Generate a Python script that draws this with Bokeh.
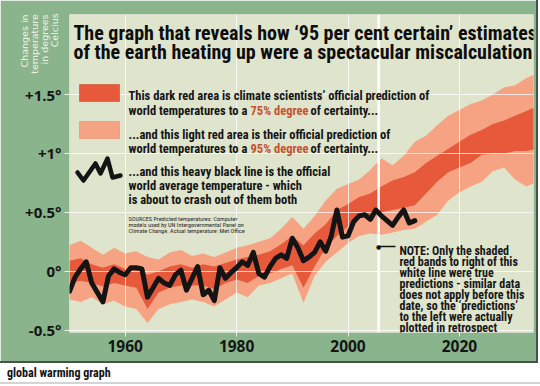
import math
from bokeh.plotting import figure
from bokeh.models import (Range1d, FixedTicker, Label, BoxAnnotation, Span, Div, Arrow,
                          LinearAxis)
from bokeh.layouts import column
from bokeh.embed import file_html
from bokeh.resources import INLINE

# ---------------- data ----------------
temp_years = list(range(1950, 2013))
temp_anomaly = [-0.17, -0.05, 0.02, 0.08, -0.10, -0.18, -0.26, -0.04, 0.02, -0.01,
                -0.03, 0.03, 0.03, 0.02, -0.22, -0.14, -0.06, -0.10, -0.12, -0.03,
                0.01, -0.16, -0.06, 0.04, -0.20, -0.16, -0.25, 0.03, -0.06, -0.01,
                0.03, 0.08, 0.05, 0.16, -0.02, -0.05, 0.04, 0.11, 0.14, 0.11,
                0.28, 0.20, 0.09, 0.12, 0.16, 0.25, 0.17, 0.30, 0.52, 0.29,
                0.30, 0.42, 0.47, 0.48, 0.44, 0.52, 0.47, 0.43, 0.39, 0.46,
                0.52, 0.41, 0.43]

band_years = list(range(1950, 2035, 2))
band95_upper = [0.22, 0.26, 0.20, 0.14, 0.20, 0.15, 0.17, 0.12, 0.10, 0.16,
                0.18, 0.13, 0.15, 0.12, 0.16, 0.20, 0.22, 0.25, 0.28, 0.36,
                0.46, 0.36, 0.47, 0.60, 0.70, 0.74, 0.78, 0.86, 0.96, 0.90,
                0.98, 1.10, 1.15, 1.24, 1.32, 1.37, 1.42, 1.45, 1.50, 1.56,
                1.58, 1.64, 1.68]
band95_lower = [-0.24, -0.26, -0.22, -0.28, -0.25, -0.30, -0.32, -0.44, -0.32, -0.28,
                -0.26, -0.24, -0.26, -0.30, -0.24, -0.18, -0.22, -0.12, -0.10, -0.06,
                -0.02, -0.27, -0.04, 0.08, 0.16, 0.24, 0.30, 0.32, 0.31, 0.33,
                0.35, 0.36, 0.42, 0.48, 0.60, 0.67, 0.72, 0.76, 0.85, 0.88,
                0.78, 0.72, 0.76]
band75_upper = [0.09, 0.11, 0.06, 0.03, 0.06, 0.02, 0.04, -0.03, 0.00, 0.04,
                0.06, 0.03, 0.06, 0.04, 0.07, 0.10, 0.12, 0.14, 0.17, 0.23,
                0.30, 0.22, 0.32, 0.40, 0.52, 0.57, 0.63, 0.66, 0.72, 0.77,
                0.80, 0.84, 0.92, 0.98, 1.04, 1.10, 1.16, 1.20, 1.25, 1.28,
                1.32, 1.36, 1.40]
band75_lower = [-0.10, -0.08, -0.10, -0.13, -0.10, -0.12, -0.14, -0.32, -0.18, -0.14,
                -0.12, -0.12, -0.12, -0.15, -0.10, -0.07, -0.10, -0.04, -0.02, 0.02,
                0.05, -0.14, 0.04, 0.20, 0.30, 0.38, 0.45, 0.48, 0.50, 0.52,
                0.54, 0.56, 0.66, 0.76, 0.84, 0.88, 0.92, 0.99, 1.00, 1.00,
                1.02, 1.02, 1.04]

prediction_start = 2005.5

x_ticks = [1960, 1980, 2000, 2020]
y_ticks = [-0.5, 0, 0.5, 1, 1.5]
y_tick_labels = ["-0.5\u00b0", "0\u00b0", "+0.5\u00b0", "+1\u00b0", "+1.5\u00b0"]
y_caption_lines = ["Changes in", "temperature", "in degrees", "Celcius"]
y_caption_at = 1.93          # height (in degrees) at which the caption is centred

# ---------------- styling ----------------
GREEN = "#8ab48b"
BEIGE = "#dfe4cd"
DARK = "#e65a3b"
LIGHT = "#f5a383"
INK = "#141414"
RUST = "#c4532f"
PALE = "#eef3e6"
NARROW = "'Roboto Condensed', 'DejaVu Sans Condensed', 'Noto Sans Condensed', 'Liberation Sans Narrow', Roboto"
WIDE = "Open Sans"

X0, X1 = 1950, 2033.3
Y0, Y1 = -0.52, 2.18
FL, FT, FW, FH = 69, 14, 464, 318   # frame position on the page (px)


def dx(px):
    return X0 + (px - FL) * (X1 - X0) / FW


def dy(py):
    return Y1 - (py - FT) * (Y1 - Y0) / FH


p = figure(width=536, height=361, output_backend="svg", toolbar_location=None,
           title=None, x_range=Range1d(X0, X1), y_range=Range1d(Y0, Y1),
           min_border_left=69, min_border_right=3, min_border_top=14, min_border_bottom=29,
           background_fill_color=BEIGE, border_fill_color=GREEN,
           styles={"outline": "2px solid #46524a"})
p.outline_line_color = None

# axes
for ax in (p.xaxis[0], p.yaxis[0]):
    ax.axis_line_color = None
    ax.minor_tick_line_color = None
    ax.major_tick_in = 0
    ax.major_tick_line_color = PALE
    ax.major_tick_line_width = 1
    ax.major_label_text_font = WIDE
    ax.major_label_text_font_style = "bold"
    ax.major_label_text_color = INK

p.xaxis.ticker = FixedTicker(ticks=x_ticks)
p.xaxis.major_tick_out = 4
p.xaxis.major_label_text_font_size = "15.5px"
p.xaxis.major_label_standoff = 3
p.yaxis.ticker = FixedTicker(ticks=y_ticks)
p.yaxis.major_tick_out = 5
p.yaxis.major_label_overrides = {t: s for t, s in zip(y_ticks, y_tick_labels)}
p.yaxis.major_label_text_font_size = "15px"
p.yaxis.major_label_standoff = 3

# rotated caption: a second left axis carrying one multi-line tick label,
# pulled in (negative standoff) so it sits over the tick-label column.
# Shorter lines get leading no-break spaces so every line ends at the top.
pads = [2, 0, 3, 9]
cap_text = "\n".join("\u00a0" * n + t for n, t in zip(pads, y_caption_lines))
cap_axis = LinearAxis(ticker=FixedTicker(ticks=[y_caption_at]),
                      major_label_overrides={y_caption_at: cap_text},
                      major_label_orientation="vertical",
                      major_label_standoff=-38,
                      major_label_text_font="DejaVu Sans",
                      major_label_text_font_size="9.5px",
                      major_label_text_color=PALE,
                      major_label_text_line_height=0.93,
                      major_tick_in=0, major_tick_out=0,
                      major_tick_line_color=None, minor_tick_line_color=None,
                      axis_line_color=None)
p.add_layout(cap_axis, "left")

for g in (p.xgrid[0], p.ygrid[0]):
    g.grid_line_color = "white"
    g.grid_line_alpha = 0.75
    g.grid_line_width = 1
    g.level = "underlay"

# bands and observed line
p.varea(x=band_years, y1=band95_lower, y2=band95_upper, fill_color=LIGHT, level="image")
p.varea(x=band_years, y1=band75_lower, y2=band75_upper, fill_color=DARK, level="image")
p.add_layout(Span(location=prediction_start, dimension="height", line_color="white",
                  line_width=2.5, level="underlay"))
p.line(temp_years, temp_anomaly, line_width=5, line_color=INK,
       line_join="round", line_cap="round")


def lab(px, py, text, size, color=INK, bold=True, font=NARROW, align="left",
        baseline="alphabetic", angle=0.0):
    p.add_layout(Label(x=dx(px), y=dy(py), text=text, text_font=font,
                       text_font_size=f"{size}px",
                       text_font_style="bold" if bold else "normal",
                       text_color=color, text_align=align, text_baseline=baseline,
                       angle=angle))


# title
lab(73, 32, "The graph that reveals how \u201895 per cent certain\u2019 estimates", 20, color="#0d0d0d")
lab(73, 51, "of the earth heating up were a spectacular miscalculation", 20, color="#0d0d0d")

# legend swatches
p.add_layout(BoxAnnotation(left=dx(79), right=dx(119), top=dy(84), bottom=dy(101),
                           fill_color=DARK, fill_alpha=1, line_color="#cf4d31", line_alpha=0.6))
p.add_layout(BoxAnnotation(left=dx(79), right=dx(119), top=dy(121), bottom=dy(138),
                           fill_color=LIGHT, fill_alpha=1, line_color="#e58d6f", line_alpha=0.6))
icon_px = [(77, 172), (83, 180), (95, 163), (100, 173), (107, 158), (112, 177), (120, 175)]
p.line([dx(a) for a, b in icon_px], [dy(b) for a, b in icon_px], line_width=4.5,
       line_color=INK, line_join="round", line_cap="round")

# legend texts
BODY = 12.5
lab(128, 95, "This dark red area is climate scientists\u2019 official prediction of", BODY)
lab(128, 110, "world temperatures to a", BODY)
lab(250, 110, "75% degree", BODY, color=RUST)
lab(310, 110, "of certainty...", BODY)
lab(128, 134, "...and this light red area is their official prediction of", BODY)
lab(128, 148, "world temperatures to a", BODY)
lab(250, 148, "95% degree", BODY, color=RUST)
lab(310, 148, "of certainty...", BODY)
lab(128, 171, "...and this heavy black line is the official", BODY)
lab(128, 185, "world average temperature - which", BODY)
lab(128, 199, "is about to crash out of them both", BODY)

# sources
for i, t in enumerate(["SOURCES Predicted temperatures: Computer",
                       "models used by UN Intergovernmental Panel on",
                       "Climate Change. Actual temperature: Met Office"]):
    lab(128, 218 + 6 * i, t, 6.2, color="#2a2a2a", bold=False)

# note
note = ["NOTE: Only the shaded", "red bands to right of this", "white line were true",
        "predictions - similar data", "does not apply before this",
        "date, so the \u2018predictions\u2019", "to the left were actually",
        "plotted in retrospect"]
for i, t in enumerate(note):
    lab(399, 250 + 11 * i, t, 12, color="#161616")
p.add_layout(Arrow(end=None, x_start=prediction_start, y_start=dy(246), x_end=dx(395),
                   y_end=dy(246), line_color=INK, line_width=1.3))
lab(378, 246, "\u25cf", 6, color=INK, bold=False, font="DejaVu Sans", align="center",
    baseline="middle")

caption = Div(text='<div style="font-family:\'Roboto Condensed\',\'Liberation Sans Narrow\',Roboto,sans-serif;'
                   'font-weight:bold;font-size:12px;color:#111;padding:6px 0 0 7px;'
                   'line-height:13px;">global warming graph</div>'
                   '<div style="margin-top:2px;border-top:2px solid #d4d4d4;width:540px;"></div>',
              width=536, height=23, margin=(0, 0, 0, 0))

layout = column(p, caption, spacing=0)
open("out.html", "w").write(file_html(layout, INLINE))
